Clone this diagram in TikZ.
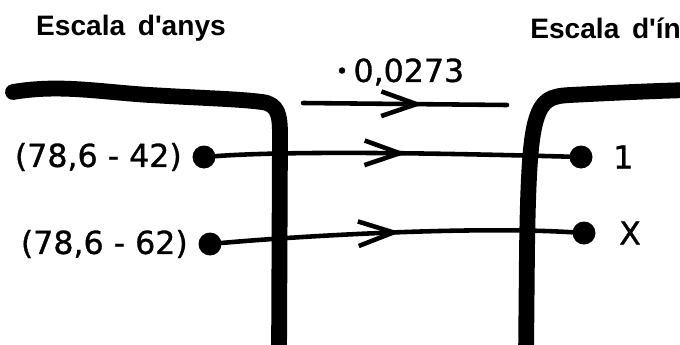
\documentclass[tikz,border=0pt]{standalone}
\usepackage{fontspec}
\setmainfont{Liberation Sans}
\newfontfamily\handfont[FakeBold=1]{DejaVu Sans}
\usetikzlibrary{positioning,arrows.meta,decorations.markings}

\tikzset{
  bar/.style={line width=9pt,line cap=round,line join=round},
  wire/.style={line width=2.6pt,line cap=round},
  dot/.style={circle,fill,inner sep=0pt,minimum size=0.46cm},
  hand/.style={font=\handfont\fontsize{18}{20}\selectfont,inner sep=0pt},
  title/.style={font=\bfseries\fontsize{16}{18}\selectfont,inner sep=0pt},
  midarrow/.style={postaction={decorate},decoration={markings,
    mark=at position #1 with {\arrow{Straight Barb[length=20pt,width=14pt]}}}}
}

\begin{document}
\begin{tikzpicture}[x=0.02cm,y=-0.02cm]
  \useasboundingbox (0,0) rectangle (680,345);
  \clip (0,0) rectangle (680,345);

  \node (tl) at (131,28) [title] {Escala\hspace{0.45em}d\textquotesingle anys};
  \node (tr) at (530,28) [title,anchor=west] {Escala\hspace{0.45em}d\textquotesingle índexs};

  % the two scales
  \draw[bar] (13,92) .. controls (60,84) and (100,92) .. (150,95)
    .. controls (200,98) and (240,99) .. (262,102)
    .. controls (278,104) and (280,115) .. (280,135) -- (279,360);
  \draw[bar] (526,360) -- (527,250) .. controls (528,180) and (530,140) .. (536,120)
    .. controls (542,100) and (550,96) .. (570,95)
    .. controls (610,93) and (650,91) .. (690,90);

  \coordinate (s0) at (303,103);
  \coordinate (s1) at (507,105);
  \draw[wire,midarrow=0.59] (s0) -- (s1);
  \node (k) at (400,72) [hand] {\raisebox{2pt}{\fontsize{12}{12}\selectfont •}\,0,0273};

  \node (a1) at (204,157) [dot] {};
  \node (l1) [hand,left=0.2cm of a1] {(78,6 - 42)};
  \node (b1) at (581,157) [dot] {};
  \node (r1) [hand,right=0.4cm of b1] {1};

  \node (a2) at (210,244) [dot] {};
  \node (l2) [hand,left=0.2cm of a2] {(78,6 - 62)};
  \node (b2) at (584,233) [dot] {};
  \node (r2) [hand,right=0.46cm of b2] {X};

  \draw[wire,midarrow=0.54] (a1) .. controls (300,150) and (470,154) .. (b1);
  \draw[wire,midarrow=0.51] (a2) .. controls (300,236) and (470,226) .. (b2);

\end{tikzpicture}
\end{document}
